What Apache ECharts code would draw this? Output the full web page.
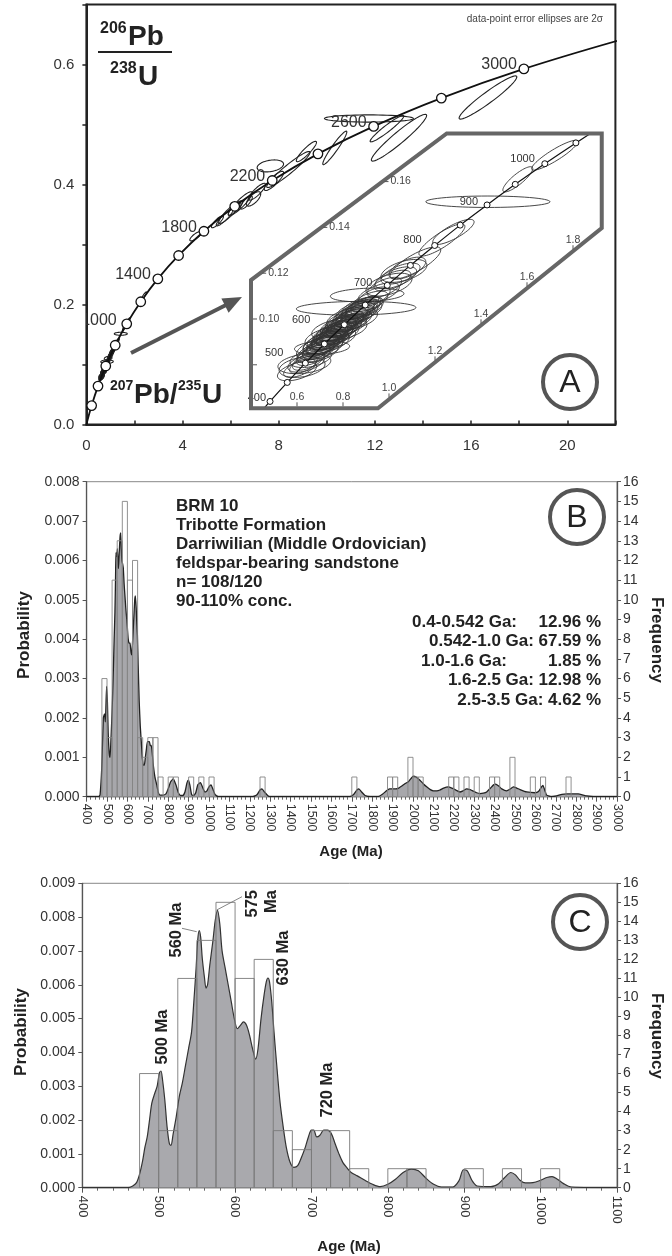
<!DOCTYPE html>
<html>
<head>
<meta charset="utf-8">
<title>BRM 10 detrital zircon U-Pb</title>
<script src="https://cdn.jsdelivr.net/npm/echarts@6.0.0/dist/echarts.min.js"></script>
<style>
  html, body { margin: 0; padding: 0; background: #fff; }
  #chart { width: 672px; height: 1256px; }
</style>
</head>
<body>
<div id="chart"></div>
<script>
// ---------- Panel A: concordia diagram ----------
// concordia ages (Ma) and their [207Pb/235U, 206Pb/238U] ratios
const concordiaAges = [0, 200, 400, 600, 800, 1000, 1200, 1400, 1600, 1800, 2000, 2200, 2400, 2600, 2800, 3000, 3200];
const concordiaRatios = [
  [0, 0], [0.2177, 0.0315], [0.4828, 0.0640], [0.8056, 0.0975], [1.1987, 0.1321],
  [1.6774, 0.1678], [2.2603, 0.2046], [2.9701, 0.2426], [3.8344, 0.2817], [4.8869, 0.3221],
  [6.1685, 0.3637], [7.7292, 0.4067], [9.6296, 0.4511], [11.9437, 0.4968], [14.7617, 0.5440],
  [18.1931, 0.5926], [22.3716, 0.6428]
];
const concordiaLabelAges = [1000, 1400, 1800, 2200, 2600, 3000];

const insetAges = [350, 400, 450, 500, 550, 600, 650, 700, 750, 800, 850, 900, 950, 1000, 1050, 1100];
const insetRatios = [
  [0.4116, 0.0558], [0.4828, 0.0640], [0.5577, 0.0723], [0.6363, 0.0807], [0.7189, 0.0891],
  [0.8056, 0.0975], [0.8968, 0.1061], [0.9925, 0.1147], [1.0931, 0.1234], [1.1987, 0.1321],
  [1.3097, 0.1410], [1.4263, 0.1498], [1.5488, 0.1588], [1.6774, 0.1678], [1.8126, 0.1769],
  [1.9545, 0.1861]
];
const insetLabelAges = [400, 500, 600, 700, 800, 900, 1000];
const insetXTicks = [0.6, 0.8, 1.0, 1.2, 1.4, 1.6, 1.8];
const insetYTicks = [0.08, 0.10, 0.12, 0.14, 0.16];
const insetYTickLabels = ['', '0.10', '0.12', '0.14', '0.16'];

// error ellipses: [207Pb/235U, 206Pb/238U, err x, err y, rho]
const youngGrains = [
  [0.600, 0.0772, 0.085, 0.0042, 0.5], [0.612, 0.0785, 0.07, 0.0040, 0.6], [0.622, 0.0790, 0.10, 0.0045, 0.3],
  [0.628, 0.0800, 0.06, 0.0038, 0.6], [0.632, 0.0805, 0.115, 0.0044, 0.3], [0.640, 0.0808, 0.08, 0.0040, 0.5],
  [0.650, 0.0818, 0.07, 0.0042, 0.6], [0.660, 0.0828, 0.09, 0.0040, 0.4], [0.672, 0.0842, 0.075, 0.0045, 0.6],
  [0.680, 0.0850, 0.08, 0.0042, 0.6], [0.684, 0.0862, 0.06, 0.0040, 0.5], [0.690, 0.0855, 0.09, 0.0045, 0.5],
  [0.695, 0.0866, 0.07, 0.0040, 0.6], [0.698, 0.0872, 0.10, 0.0050, 0.5], [0.703, 0.0870, 0.06, 0.0038, 0.7],
  [0.706, 0.0880, 0.08, 0.0042, 0.6], [0.709, 0.0875, 0.12, 0.0030, 0.2], [0.712, 0.0884, 0.07, 0.0045, 0.6],
  [0.715, 0.0888, 0.09, 0.0040, 0.5], [0.717, 0.0894, 0.06, 0.0040, 0.7],
  [0.721, 0.0893, 0.08, 0.0045, 0.6], [0.725, 0.0900, 0.07, 0.0040, 0.6], [0.728, 0.0897, 0.10, 0.0048, 0.5],
  [0.731, 0.0905, 0.06, 0.0040, 0.7], [0.735, 0.0910, 0.09, 0.0042, 0.5], [0.738, 0.0906, 0.075, 0.0045, 0.6],
  [0.741, 0.0915, 0.08, 0.0040, 0.6], [0.745, 0.0918, 0.11, 0.0050, 0.4], [0.748, 0.0922, 0.065, 0.0040, 0.7],
  [0.751, 0.0920, 0.09, 0.0044, 0.6], [0.754, 0.0927, 0.07, 0.0042, 0.6], [0.757, 0.0930, 0.085, 0.0046, 0.5],
  [0.760, 0.0933, 0.06, 0.0040, 0.7],
  [0.763, 0.0935, 0.08, 0.0044, 0.6], [0.766, 0.0940, 0.07, 0.0040, 0.6], [0.769, 0.0936, 0.10, 0.0048, 0.5],
  [0.772, 0.0944, 0.065, 0.0042, 0.7], [0.775, 0.0948, 0.09, 0.0045, 0.5], [0.778, 0.0945, 0.075, 0.0040, 0.6],
  [0.781, 0.0952, 0.08, 0.0046, 0.6], [0.784, 0.0955, 0.12, 0.0050, 0.4], [0.787, 0.0958, 0.07, 0.0040, 0.7],
  [0.790, 0.0956, 0.09, 0.0044, 0.6], [0.793, 0.0963, 0.065, 0.0042, 0.6], [0.796, 0.0966, 0.085, 0.0046, 0.5],
  [0.799, 0.0964, 0.07, 0.0040, 0.7], [0.802, 0.0970, 0.10, 0.0045, 0.5], [0.805, 0.0974, 0.06, 0.0042, 0.7],
  [0.810, 0.0979, 0.08, 0.0044, 0.6], [0.815, 0.0983, 0.09, 0.0040, 0.5], [0.819, 0.0988, 0.07, 0.0046, 0.6],
  [0.824, 0.0992, 0.10, 0.0048, 0.5], [0.828, 0.0990, 0.065, 0.0040, 0.7], [0.832, 0.1000, 0.085, 0.0045, 0.6],
  [0.836, 0.1004, 0.07, 0.0042, 0.6], [0.840, 0.1002, 0.11, 0.0050, 0.4], [0.843, 0.1010, 0.075, 0.0044, 0.6],
  [0.846, 0.1013, 0.09, 0.0046, 0.5], [0.849, 0.1016, 0.06, 0.0040, 0.7],
  [0.853, 0.1020, 0.08, 0.0044, 0.6], [0.857, 0.1047, 0.26, 0.0030, 0.1], [0.861, 0.1026, 0.09, 0.0046, 0.5],
  [0.865, 0.1031, 0.07, 0.0042, 0.6], [0.869, 0.1034, 0.10, 0.0048, 0.5], [0.873, 0.1038, 0.065, 0.0040, 0.7],
  [0.877, 0.1042, 0.085, 0.0045, 0.6], [0.881, 0.1046, 0.07, 0.0042, 0.6], [0.885, 0.1050, 0.09, 0.0046, 0.5],
  [0.888, 0.1053, 0.075, 0.0044, 0.6], [0.892, 0.1057, 0.08, 0.0040, 0.6], [0.895, 0.1060, 0.06, 0.0042, 0.7],
  [0.905, 0.1105, 0.16, 0.0030, 0.2], [0.915, 0.1077, 0.08, 0.0045, 0.6], [0.935, 0.1098, 0.07, 0.0042, 0.6],
  [0.955, 0.1112, 0.09, 0.0046, 0.6], [0.980, 0.1138, 0.075, 0.0044, 0.6],
  [1.000, 0.1150, 0.10, 0.0050, 0.5], [1.015, 0.1168, 0.08, 0.0045, 0.6], [1.030, 0.1180, 0.09, 0.0048, 0.6],
  [1.050, 0.1198, 0.085, 0.0046, 0.6], [1.065, 0.1210, 0.10, 0.0050, 0.5], [1.080, 0.1222, 0.08, 0.0048, 0.6],
  [1.115, 0.1245, 0.11, 0.0070, 0.8], [1.230, 0.1345, 0.10, 0.0070, 0.85], [1.280, 0.1380, 0.09, 0.0055, 0.8],
  [1.430, 0.1512, 0.27, 0.0025, 0.0], [1.560, 0.1610, 0.065, 0.0055, 0.85], [1.720, 0.1715, 0.10, 0.0065, 0.9]
];
const oldGrains = [
  [2.40, 0.2150, 0.10, 0.0060, 0.9], [4.55, 0.3140, 0.25, 0.0080, 0.8], [5.45, 0.3380, 0.25, 0.0100, 0.85],
  [5.75, 0.3450, 0.35, 0.0140, 0.9], [5.95, 0.3530, 0.45, 0.0180, 0.9], [6.20, 0.3610, 0.30, 0.0120, 0.85],
  [6.40, 0.3680, 0.50, 0.0200, 0.9], [6.65, 0.3700, 0.25, 0.0110, 0.8], [6.95, 0.3760, 0.30, 0.0120, 0.7],
  [7.10, 0.3880, 0.35, 0.0140, 0.85], [7.65, 0.4310, 0.55, 0.0100, 0.3], [7.80, 0.4060, 0.40, 0.0160, 0.85],
  [8.40, 0.4250, 0.90, 0.0300, 0.95], [9.15, 0.4550, 0.42, 0.0170, 0.9], [10.33, 0.4610, 0.50, 0.0280, 0.95],
  [11.75, 0.5100, 1.85, 0.0060, 0.0], [12.50, 0.4930, 0.70, 0.0220, 0.95], [13.00, 0.4780, 1.15, 0.0390, 0.95],
  [16.70, 0.5450, 1.20, 0.0360, 0.95]
];

// ---------- Panels B, C: histogram (25 Ma bins) and probability curves ----------
// [bin start, bin end, count]
const histBins = [
  [475, 500, 6], [500, 525, 3], [525, 550, 11], [550, 575, 13], [575, 600, 15], [600, 625, 11],
  [625, 650, 12], [650, 675, 3], [675, 700, 2], [700, 725, 3], [725, 750, 3], [750, 775, 1],
  [800, 825, 1], [825, 850, 1], [900, 925, 1], [950, 975, 1], [1000, 1025, 1], [1250, 1275, 1],
  [1700, 1725, 1], [1875, 1900, 1], [1900, 1925, 1], [1975, 2000, 2], [2000, 2025, 1], [2025, 2050, 1],
  [2175, 2200, 1], [2200, 2225, 1], [2250, 2275, 1], [2300, 2325, 1], [2375, 2400, 1], [2400, 2425, 1],
  [2475, 2500, 2], [2575, 2600, 1], [2625, 2650, 1], [2750, 2775, 1]
];
// [age Ma, probability]
const pdpB = [
  [400, 0], [460, 0], [466, 0.00005], [474, 0.0007], [482, 0.002], [488, 0.0021], [492, 0.0019], [498, 0.0028],
  [502, 0.0024], [506, 0.0016], [511, 0.0011], [515, 0.001], [519, 0.0014], [523, 0.0019], [527, 0.0025],
  [531, 0.0032], [535, 0.004], [539, 0.0047], [542, 0.0056], [544, 0.0062], [548, 0.0061], [551, 0.0063],
  [554, 0.0059], [556, 0.0058], [559, 0.0061], [561, 0.0063], [564, 0.0066], [567, 0.0067], [570, 0.0063],
  [573, 0.006], [577, 0.0059], [580, 0.0058], [584, 0.0054], [588, 0.0051], [592, 0.0048], [597, 0.0045],
  [601, 0.0042], [604, 0.004], [608, 0.0039], [613, 0.0039], [617, 0.0037], [621, 0.0036], [625, 0.0039],
  [629, 0.0043], [633, 0.0047], [636, 0.005], [639, 0.0051], [643, 0.0048], [646, 0.0044], [649, 0.0041],
  [653, 0.0033], [658, 0.0024], [663, 0.0018], [668, 0.0014], [673, 0.001], [678, 0.0008], [683, 0.0008],
  [688, 0.001], [693, 0.0012], [698, 0.0014], [703, 0.0014], [708, 0.0014], [712, 0.0013], [717, 0.0013],
  [722, 0.0011], [727, 0.0008], [735, 0.0005], [744, 0.0003], [752, 0.0001], [760, 0.00004], [776, 0.00004],
  [790, 0.00008], [800, 0.0002], [812, 0.00038], [825, 0.00045], [838, 0.0003], [850, 0.0001], [860, 0.00003],
  [872, 0.00003], [882, 0.00012], [892, 0.00035], [899, 0.00042], [906, 0.0003], [915, 0.00005], [925, 0.00003],
  [935, 0.0001], [945, 0.0003], [958, 0.00036], [970, 0.00022], [980, 0.00012], [990, 0.00015], [1000, 0.00025],
  [1010, 0.0003], [1020, 0.00018], [1030, 0.00005], [1045, 0], [1215, 0], [1235, 0.00005], [1250, 0.00017],
  [1260, 0.0002], [1272, 0.00012], [1290, 0.00002], [1300, 0], [1690, 0], [1710, 0.00006], [1725, 0.00017],
  [1735, 0.0002], [1748, 0.00012], [1765, 0.00003], [1790, 0], [1830, 0], [1850, 0.00006], [1870, 0.00015],
  [1885, 0.0002], [1900, 0.0002], [1915, 0.0002], [1930, 0.00022], [1945, 0.00027], [1960, 0.00033],
  [1977, 0.00038], [1990, 0.00046], [2002, 0.00052], [2015, 0.0005], [2034, 0.00042], [2050, 0.00033],
  [2067, 0.00025], [2085, 0.00018], [2100, 0.00015], [2117, 0.00015], [2132, 0.00017], [2150, 0.00022],
  [2173, 0.00025], [2190, 0.00022], [2206, 0.00018], [2220, 0.00014], [2230, 0.00012], [2245, 0.00015],
  [2263, 0.0002], [2280, 0.00018], [2296, 0.00014], [2312, 0.0001], [2328, 0.00008], [2345, 0.00009],
  [2361, 0.00012], [2380, 0.00022], [2395, 0.0003], [2405, 0.00032], [2420, 0.00027], [2435, 0.0002],
  [2459, 0.00015], [2475, 0.00019], [2492, 0.00025], [2508, 0.00022], [2525, 0.00018], [2557, 0.00012],
  [2598, 0.0001], [2615, 0.00013], [2630, 0.00025], [2637, 0.00029], [2645, 0.00018], [2655, 0.00004],
  [2680, 0], [2704, 0.00002], [2730, 0.00006], [2753, 0.00007], [2790, 0.00007], [2810, 0.00007],
  [2835, 0.00004], [2851, 0.00002], [2884, 0], [3000, 0]
];
const pdpC = [
  [400, 0], [460, 0], [466, 0.00005], [471, 0.00015], [475, 0.0004], [479, 0.0008], [482, 0.0012], [485, 0.0015],
  [488, 0.002], [491, 0.0025], [495, 0.0028], [498, 0.003], [501, 0.0034], [503, 0.00345], [505, 0.0032],
  [508, 0.0026], [511, 0.0018], [514, 0.0013], [516, 0.00125], [519, 0.0016], [523, 0.0021], [527, 0.0027],
  [531, 0.0031], [535, 0.0036], [539, 0.0041], [543, 0.0046], [546, 0.0055], [549, 0.0065], [551, 0.0073],
  [553, 0.0076], [555, 0.0074], [557, 0.0068], [560, 0.0062], [562, 0.0059], [564, 0.006], [567, 0.0066],
  [571, 0.0073], [574, 0.0079], [577, 0.0082], [580, 0.0078], [583, 0.007], [587, 0.0065], [591, 0.006],
  [595, 0.0055], [599, 0.005], [603, 0.0047], [607, 0.0048], [611, 0.0049], [615, 0.0048], [619, 0.0045],
  [623, 0.0041], [627, 0.0038], [630, 0.0041], [634, 0.005], [638, 0.0057], [641, 0.0061], [643, 0.0062],
  [645, 0.0061], [648, 0.0055], [651, 0.0046], [655, 0.0035], [659, 0.0025], [663, 0.0018], [667, 0.0012],
  [672, 0.00075], [677, 0.0006], [682, 0.00065], [687, 0.0009], [692, 0.0012], [696, 0.0015], [700, 0.0017],
  [703, 0.0017], [707, 0.0015], [711, 0.00155], [716, 0.0017], [721, 0.0017], [726, 0.0016], [731, 0.0013],
  [736, 0.001], [741, 0.00075], [746, 0.0006], [752, 0.00045], [760, 0.00035], [770, 0.00022], [780, 0.0001],
  [790, 0.00003], [800, 0.0001], [810, 0.00025], [820, 0.00045], [831, 0.00055], [840, 0.0005], [850, 0.00028],
  [860, 0.0001], [870, 0.00002], [885, 0.00002], [893, 0.0002], [899, 0.00053], [904, 0.0005], [910, 0.00022],
  [917, 0.00005], [935, 0.00003], [945, 0.00012], [953, 0.0003], [961, 0.00045], [967, 0.00038], [973, 0.00022],
  [980, 0.00014], [990, 0.00015], [1000, 0.00022], [1008, 0.0003], [1015, 0.00033], [1022, 0.00025],
  [1030, 0.00012], [1040, 0.00002], [1100, 0]
];

// ---------- rendering ----------
const FONT = '"Liberation Sans", Arial, Helvetica, sans-serif';
const INK = '#222';
const chart = echarts.init(document.getElementById('chart'));

function txt(x, y, text, o) {
  o = o || {};
  const st = {
    text: text, fill: o.fill || INK, fontSize: o.size || 17, fontWeight: o.weight || 'normal',
    fontFamily: FONT, textAlign: o.align || 'left', align: o.align || 'left',
    textVerticalAlign: o.valign || 'middle', verticalAlign: o.valign || 'middle'
  };
  if (o.lineHeight) st.lineHeight = o.lineHeight;
  return { type: 'text', x: x, y: y, rotation: o.rotation || 0, z: 50, style: st };
}
function ring(cx, cy, letter) {
  return [
    { type: 'circle', z: 50, shape: { cx: cx, cy: cy, r: 27 }, style: { fill: 'none', stroke: '#555', lineWidth: 4 } },
    txt(cx, cy + 1, letter, { size: 32, align: 'center' })
  ];
}

function renderEllipse(color, width) {
  return function (params, api) {
    const cx = api.value(0), cy = api.value(1), sx = api.value(2), sy = api.value(3), r = api.value(4);
    const q = Math.sqrt(1 - r * r);
    const pts = [];
    for (let i = 0; i < 60; i++) {
      const t = i / 60 * Math.PI * 2;
      pts.push(api.coord([cx + sx * Math.cos(t), cy + sy * (r * Math.cos(t) + q * Math.sin(t))]));
    }
    return { type: 'polygon', shape: { points: pts }, style: { fill: 'none', stroke: color, lineWidth: width } };
  };
}
function renderAgeLabel(shift, size) {
  return function (params, api) {
    const age = api.value(2);
    const p = api.coord([api.value(0), api.value(1)]);
    const s = shift[age] || shift.all;
    return {
      type: 'text', x: p[0] + s[0], y: p[1] + s[1],
      style: { text: String(age), fill: '#333', fontSize: size, fontFamily: FONT,
        textAlign: 'right', align: 'right', textVerticalAlign: 'middle', verticalAlign: 'middle' }
    };
  };
}
function renderBins(stroke) {
  return function (params, api) {
    const a = api.coord([api.value(0), 0]);
    const b = api.coord([api.value(1), api.value(2)]);
    return { type: 'rect', shape: { x: a[0], y: b[1], width: b[0] - a[0], height: a[1] - b[1] },
      style: { fill: 'none', stroke: stroke, lineWidth: 0.9 } };
  };
}

// inset frame (clipped-corner box) in inset data units
const insetFrame = [[0.4, 0.061], [0.952, 0.061], [1.925, 0.1397], [1.925, 0.181], [1.251, 0.181], [0.4, 0.117]];
function frameLowY(x) {
  const a = insetFrame[1], b = insetFrame[2];
  return x <= a[0] ? a[1] : a[1] + (x - a[0]) * (b[1] - a[1]) / (b[0] - a[0]);
}
function frameLeftX(y) {
  const a = insetFrame[5], b = insetFrame[4];
  return y <= a[1] ? a[0] : a[0] + (y - a[1]) * (b[0] - a[0]) / (b[1] - a[1]);
}
function renderInsetFrame(params, api) {
  const kids = [{ type: 'polygon', shape: { points: insetFrame.map(p => api.coord(p)) },
    style: { fill: 'none', stroke: '#666', lineWidth: 4, lineJoin: 'miter' } }];
  const small = { fill: '#444', fontSize: 10.5, fontFamily: FONT };
  insetXTicks.forEach(v => {
    const p = api.coord([v, frameLowY(v)]);
    kids.push({ type: 'line', shape: { x1: p[0], y1: p[1] - 2, x2: p[0], y2: p[1] - 6 }, style: { stroke: '#555', lineWidth: 1 } });
    kids.push({ type: 'text', x: p[0], y: p[1] - 11, style: Object.assign({ text: v.toFixed(1),
      textAlign: 'center', align: 'center', textVerticalAlign: 'middle', verticalAlign: 'middle' }, small) });
  });
  insetYTicks.forEach((v, i) => {
    const p = api.coord([frameLeftX(v), v]);
    kids.push({ type: 'line', shape: { x1: p[0] + 2, y1: p[1], x2: p[0] + 6, y2: p[1] }, style: { stroke: '#555', lineWidth: 1 } });
    kids.push({ type: 'text', x: p[0] + 8, y: p[1], style: Object.assign({ text: insetYTickLabels[i],
      textAlign: 'left', align: 'left', textVerticalAlign: 'middle', verticalAlign: 'middle' }, small) });
  });
  return { type: 'group', children: kids };
}

const allGrains = youngGrains.concat(oldGrains);
const mainCurve = concordiaRatios.map((p, i) => ({ value: p, symbol: concordiaAges[i] === 0 ? 'none' : 'circle' }));
const mainLabels = concordiaAges.map((a, i) => [concordiaRatios[i][0], concordiaRatios[i][1], a])
  .filter(d => concordiaLabelAges.indexOf(d[2]) >= 0);
const insetLabels = insetAges.map((a, i) => [insetRatios[i][0], insetRatios[i][1], a])
  .filter(d => insetLabelAges.indexOf(d[2]) >= 0);

const axisLab = { color: '#333', fontFamily: FONT };
const darkLine = { color: '#222', width: 2 };
const greyLine = { color: '#555', width: 1.3 };
const plain = v => String(v);

const option = {
  animation: false,
  backgroundColor: '#fff',
  grid: [
    { left: 86.4, top: 4.5, width: 529, height: 420, show: true, borderColor: '#222', borderWidth: 2, outerBoundsMode: 'none' },
    { left: 251, top: 133.5, width: 350.75, height: 274.8, outerBoundsMode: 'none' },
    { left: 86.6, top: 481.7, width: 530.4, height: 315, show: true, borderColor: '#888', borderWidth: 1, outerBoundsMode: 'none' },
    { left: 82.3, top: 883.3, width: 534.7, height: 304.4, show: true, borderColor: '#888', borderWidth: 1, outerBoundsMode: 'none' }
  ],
  xAxis: [
    { gridIndex: 0, type: 'value', min: 0, max: 22, interval: 2,
      axisLine: { show: true, onZero: false, lineStyle: darkLine },
      axisTick: { show: true, inside: true, length: 4, lineStyle: { color: '#222', width: 1.5 } },
      axisLabel: Object.assign({ fontSize: 15, margin: 14, showMaxLabel: true,
        formatter: v => (Math.round(v) % 4 === 0 ? String(Math.round(v)) : '') }, axisLab),
      splitLine: { show: false } },
    { gridIndex: 1, type: 'value', min: 0.4, max: 1.925, show: false },
    { gridIndex: 2, type: 'value', min: 400, max: 3000, interval: 100,
      axisLine: { show: true, onZero: false, lineStyle: greyLine },
      axisTick: { show: true, length: 5, lineStyle: { color: '#555' } },
      minorTick: { show: true, splitNumber: 5, length: 3, lineStyle: { color: '#666' } },
      axisLabel: Object.assign({ fontSize: 12.5, rotate: -90, margin: 7, showMinLabel: true, showMaxLabel: true, formatter: plain }, axisLab),
      splitLine: { show: false }, minorSplitLine: { show: false } },
    { gridIndex: 3, type: 'value', min: 400, max: 1100, interval: 100,
      axisLine: { show: true, onZero: false, lineStyle: greyLine },
      axisTick: { show: true, length: 5, lineStyle: { color: '#555' } },
      minorTick: { show: true, splitNumber: 5, length: 3, lineStyle: { color: '#666' } },
      axisLabel: Object.assign({ fontSize: 13, rotate: -90, margin: 8, showMinLabel: true, showMaxLabel: true, formatter: plain }, axisLab),
      splitLine: { show: false }, minorSplitLine: { show: false } }
  ],
  yAxis: [
    { gridIndex: 0, type: 'value', min: 0, max: 0.7, interval: 0.1,
      axisLine: { show: true, onZero: false, lineStyle: darkLine },
      axisTick: { show: true, length: 4, lineStyle: { color: '#222', width: 1.5 } },
      axisLabel: Object.assign({ fontSize: 15, margin: 12, formatter: v => {
        const k = Math.round(v * 10); return k % 2 === 0 ? (k / 10).toFixed(1) : ''; } }, axisLab),
      splitLine: { show: false } },
    { gridIndex: 1, type: 'value', min: 0.061, max: 0.181, show: false },
    { gridIndex: 2, type: 'value', min: 0, max: 0.008, interval: 0.001,
      axisLine: { show: true, onZero: false, lineStyle: greyLine },
      axisTick: { show: true, length: 4, lineStyle: { color: '#555' } },
      axisLabel: Object.assign({ fontSize: 14, margin: 7, formatter: v => v.toFixed(3) }, axisLab),
      splitLine: { show: false } },
    { gridIndex: 2, type: 'value', position: 'right', min: 0, max: 16, interval: 1,
      axisLine: { show: true, onZero: false, lineStyle: greyLine },
      axisTick: { show: true, length: 4, lineStyle: { color: '#555' } },
      axisLabel: Object.assign({ fontSize: 14, margin: 6 }, axisLab),
      splitLine: { show: false } },
    { gridIndex: 3, type: 'value', min: 0, max: 0.009, interval: 0.001,
      axisLine: { show: true, onZero: false, lineStyle: greyLine },
      axisTick: { show: true, length: 4, lineStyle: { color: '#555' } },
      axisLabel: Object.assign({ fontSize: 14, margin: 7, formatter: v => v.toFixed(3) }, axisLab),
      splitLine: { show: false } },
    { gridIndex: 3, type: 'value', position: 'right', min: 0, max: 16, interval: 1,
      axisLine: { show: true, onZero: false, lineStyle: greyLine },
      axisTick: { show: true, length: 4, lineStyle: { color: '#555' } },
      axisLabel: Object.assign({ fontSize: 14, margin: 6 }, axisLab),
      splitLine: { show: false } }
  ],
  series: [
    // panel A main
    { type: 'custom', xAxisIndex: 0, yAxisIndex: 0, clip: true, z: 2, silent: true,
      renderItem: renderEllipse('#222', 1.1), data: allGrains },
    { type: 'line', xAxisIndex: 0, yAxisIndex: 0, data: mainCurve, smooth: 0.4, z: 4, silent: true,
      symbolSize: 9.5, lineStyle: { color: '#111', width: 1.8 },
      itemStyle: { color: '#fff', borderColor: '#111', borderWidth: 1.3 } },
    { type: 'custom', xAxisIndex: 0, yAxisIndex: 0, clip: true, z: 5, silent: true,
      renderItem: renderAgeLabel({ 1000: [-10, -3], all: [-7, -4] }, 16), data: mainLabels },
    // panel A inset
    { type: 'custom', xAxisIndex: 1, yAxisIndex: 1, clip: true, z: 2, silent: true,
      renderItem: renderEllipse('#333', 0.9), data: allGrains },
    { type: 'line', xAxisIndex: 1, yAxisIndex: 1, data: insetRatios, smooth: 0.3, z: 4, silent: true,
      symbol: 'circle', symbolSize: 6, lineStyle: { color: '#111', width: 1.2 },
      itemStyle: { color: '#fff', borderColor: '#111', borderWidth: 1 } },
    { type: 'custom', xAxisIndex: 1, yAxisIndex: 1, clip: false, z: 5, silent: true,
      renderItem: renderAgeLabel({ 400: [-4, -3], 500: [-22, -10], 600: [-34, -5], 700: [-15, -2],
        800: [-13, -6], 900: [-9, -3], 1000: [-10, -5], all: [-8, -4] }, 11), data: insetLabels },
    { type: 'custom', xAxisIndex: 1, yAxisIndex: 1, clip: false, z: 6, silent: true,
      renderItem: renderInsetFrame, data: [insetFrame[0]] },
    // panel B
    { type: 'line', xAxisIndex: 2, yAxisIndex: 2, data: pdpB, smooth: 0.15, showSymbol: false, z: 2, silent: true,
      lineStyle: { color: '#222', width: 1.3 }, areaStyle: { color: '#a7a7ab', opacity: 1 } },
    { type: 'custom', xAxisIndex: 2, yAxisIndex: 3, clip: true, z: 3, silent: true,
      renderItem: renderBins('#858585'), data: histBins },
    // panel C
    { type: 'line', xAxisIndex: 3, yAxisIndex: 4, data: pdpC, smooth: 0.3, showSymbol: false, z: 2, silent: true,
      lineStyle: { color: '#333', width: 1.2 }, areaStyle: { color: '#a9a9ad', opacity: 1 } },
    { type: 'custom', xAxisIndex: 3, yAxisIndex: 5, clip: true, z: 3, silent: true,
      renderItem: renderBins('#7a7a7a'), data: histBins }
  ],
  graphic: [
    // panel A annotations
    txt(603, 19, 'data-point error ellipses are 2\u03c3', { size: 10, align: 'right', fill: '#444' }),
    txt(100, 28.5, '206', { size: 16, weight: 'bold' }),
    txt(128, 37, 'Pb', { size: 28, weight: 'bold' }),
    { type: 'line', z: 50, shape: { x1: 98, y1: 52, x2: 172, y2: 52 }, style: { stroke: INK, lineWidth: 2 } },
    txt(110, 69, '238', { size: 16, weight: 'bold' }),
    txt(138, 77.5, 'U', { size: 28, weight: 'bold' }),
    txt(110, 386.5, '207', { size: 14, weight: 'bold' }),
    txt(134, 395, 'Pb/', { size: 28, weight: 'bold' }),
    txt(178, 386.5, '235', { size: 14, weight: 'bold' }),
    txt(202, 395, 'U', { size: 28, weight: 'bold' }),
    { type: 'line', z: 50, shape: { x1: 131, y1: 353, x2: 226, y2: 305 }, style: { stroke: '#555', lineWidth: 4 } },
    { type: 'polygon', z: 50, shape: { points: [[242, 297], [228.6, 312.7], [221.4, 298.4]] }, style: { fill: '#555' } },
    ...ring(570, 382, 'A'),
    // panel B annotations
    txt(176, 497, 'BRM 10\nTribotte Formation\nDarriwilian (Middle Ordovician)\nfeldspar-bearing sandstone\nn= 108/120\n90-110% conc.',
      { size: 17, weight: 'bold', valign: 'top', lineHeight: 19 }),
    txt(517, 622, '0.4-0.542 Ga:', { weight: 'bold', align: 'right' }),
    txt(601, 622, '12.96 %', { weight: 'bold', align: 'right' }),
    txt(601, 641, '0.542-1.0 Ga: 67.59 %', { weight: 'bold', align: 'right' }),
    txt(507, 661, '1.0-1.6 Ga:', { weight: 'bold', align: 'right' }),
    txt(601, 661, '1.85 %', { weight: 'bold', align: 'right' }),
    txt(601, 680, '1.6-2.5 Ga: 12.98 %', { weight: 'bold', align: 'right' }),
    txt(601, 700, '2.5-3.5 Ga: 4.62 %', { weight: 'bold', align: 'right' }),
    ...ring(577, 517, 'B'),
    txt(24, 635, 'Probability', { weight: 'bold', align: 'center', rotation: Math.PI / 2 }),
    txt(657, 640, 'Frequency', { weight: 'bold', align: 'center', rotation: -Math.PI / 2 }),
    txt(351, 852, 'Age (Ma)', { size: 15, weight: 'bold', align: 'center' }),
    // panel C annotations
    ...ring(580, 922, 'C'),
    txt(162, 1037, '500 Ma', { size: 16.5, weight: 'bold', align: 'center', rotation: Math.PI / 2 }),
    txt(176.7, 930, '560 Ma', { size: 16.5, weight: 'bold', align: 'center', rotation: Math.PI / 2 }),
    txt(262, 890, '575\nMa', { size: 16.5, weight: 'bold', align: 'right', rotation: Math.PI / 2, lineHeight: 19 }),
    txt(283.5, 958, '630 Ma', { size: 16.5, weight: 'bold', align: 'center', rotation: Math.PI / 2 }),
    txt(327.5, 1090, '720 Ma', { size: 16.5, weight: 'bold', align: 'center', rotation: Math.PI / 2 }),
    { type: 'line', z: 50, shape: { x1: 182, y1: 928.3, x2: 196.7, y2: 931.7 }, style: { stroke: '#666', lineWidth: 0.8 } },
    { type: 'line', z: 50, shape: { x1: 216.7, y1: 910, x2: 242, y2: 896.7 }, style: { stroke: '#666', lineWidth: 0.8 } },
    txt(21, 1032, 'Probability', { weight: 'bold', align: 'center', rotation: Math.PI / 2 }),
    txt(657, 1036, 'Frequency', { weight: 'bold', align: 'center', rotation: -Math.PI / 2 }),
    txt(349, 1247, 'Age (Ma)', { size: 15, weight: 'bold', align: 'center' })
  ]
};

chart.setOption(option);
</script>
</body>
</html>
